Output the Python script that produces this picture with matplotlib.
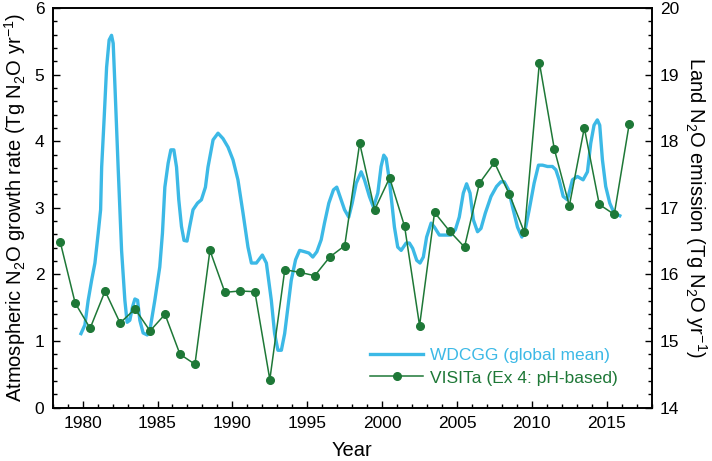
import numpy as np
import matplotlib
matplotlib.use('Agg')
import matplotlib.pyplot as plt
from matplotlib.ticker import MultipleLocator

plt.rcParams['font.family'] = ['Liberation Sans', 'DejaVu Sans']
plt.rcParams['mathtext.fontset'] = 'custom'
plt.rcParams['mathtext.rm'] = 'Liberation Sans'
plt.rcParams['mathtext.it'] = 'Liberation Sans:italic'
plt.rcParams['mathtext.default'] = 'regular'

## WDCGG global mean growth rate (smoothed monthly)
wdcgg_year = [1979.89, 1980.15, 1980.37, 1980.6, 1980.82, 1981.04, 1981.2, 1981.27, 1981.44,
              1981.6, 1981.77, 1981.93, 1982.04, 1982.15, 1982.37, 1982.6, 1982.82, 1982.97,
              1983.15, 1983.33, 1983.49, 1983.67, 1983.82, 1984.04, 1984.31, 1984.49, 1984.6,
              1984.82, 1985.15, 1985.33, 1985.49, 1985.71, 1985.89, 1986.09, 1986.27, 1986.42,
              1986.6, 1986.77, 1986.97, 1987.15, 1987.37, 1987.67, 1987.93, 1988.2, 1988.37,
              1988.71, 1989.04, 1989.37, 1989.71, 1990.04, 1990.37, 1990.71, 1991.04, 1991.27,
              1991.6, 1992.0, 1992.27, 1992.6, 1992.82, 1993.04, 1993.27, 1993.49, 1993.71,
              1993.93, 1994.22, 1994.49, 1994.82, 1995.11, 1995.37, 1995.64, 1995.93, 1996.15,
              1996.44, 1996.75, 1996.97, 1997.2, 1997.49, 1997.77, 1998.0, 1998.27, 1998.6,
              1998.82, 1999.15, 1999.42, 1999.71, 1999.93, 2000.11, 2000.27, 2000.49, 2000.82,
              2001.04, 2001.27, 2001.6, 2001.82, 2002.04, 2002.31, 2002.53, 2002.75, 2002.97,
              2003.27, 2003.49, 2003.82, 2004.15, 2004.6, 2004.89, 2005.15, 2005.42, 2005.64,
              2005.87, 2006.09, 2006.37, 2006.6, 2006.89, 2007.27, 2007.64, 2007.93, 2008.15,
              2008.44, 2008.71, 2009.04, 2009.33, 2009.55, 2009.82, 2010.15, 2010.44, 2010.71,
              2011.04, 2011.37, 2011.6, 2011.82, 2012.09, 2012.37, 2012.71, 2013.04, 2013.42,
              2013.71, 2013.93, 2014.15, 2014.37, 2014.53, 2014.71, 2014.93, 2015.2, 2015.49,
              2015.87]
wdcgg_rate = [1.11, 1.24, 1.61, 1.91, 2.17, 2.62, 2.97, 3.61, 4.36,
              5.11, 5.52, 5.59, 5.47, 4.87, 3.61, 2.36, 1.61, 1.28,
              1.31, 1.51, 1.63, 1.61, 1.31, 1.12, 1.09, 1.16, 1.31,
              1.61, 2.11, 2.62, 3.31, 3.67, 3.87, 3.87, 3.61, 3.12,
              2.72, 2.51, 2.50, 2.72, 2.97, 3.07, 3.12, 3.31, 3.61,
              4.02, 4.12, 4.04, 3.91, 3.72, 3.42, 2.92, 2.41, 2.17,
              2.17, 2.29, 2.17, 1.61, 1.11, 0.86, 0.86, 1.11, 1.51,
              1.91, 2.22, 2.36, 2.34, 2.32, 2.26, 2.34, 2.52, 2.77,
              3.07, 3.27, 3.31, 3.16, 2.97, 2.86, 3.07, 3.37, 3.54,
              3.42, 3.17, 3.01, 3.22, 3.62, 3.79, 3.74, 3.40, 2.71,
              2.41, 2.36, 2.47, 2.47, 2.39, 2.21, 2.17, 2.26, 2.56,
              2.77, 2.71, 2.59, 2.59, 2.59, 2.67, 2.86, 3.22, 3.36,
              3.22, 2.82, 2.64, 2.69, 2.92, 3.17, 3.32, 3.39, 3.39,
              3.27, 3.01, 2.71, 2.56, 2.67, 2.97, 3.37, 3.64, 3.64,
              3.62, 3.62, 3.57, 3.42, 3.17, 3.12, 3.42, 3.47, 3.42,
              3.54, 3.97, 4.24, 4.32, 4.24, 3.72, 3.32, 3.07, 2.92,
              2.88]

## VISIT land N2O emission (annual)
visit_year = np.arange(1978, 2017) + 0.5
visit_emis = [16.49, 15.57, 15.19, 15.75, 15.27, 15.48, 15.15, 15.40, 14.80, 14.65,
              16.36, 15.73, 15.75, 15.74, 14.42, 16.07, 16.03, 15.98, 16.26, 16.43,
              17.97, 16.97, 17.45, 16.72, 15.23, 16.93, 16.65, 16.41, 17.37, 17.68,
              17.20, 16.63, 19.18, 17.88, 17.03, 18.20, 17.05, 16.90, 18.26]

blue = '#3cb9e6'
green = '#1e7837'

fig = plt.figure(figsize=(7.12, 4.61), dpi=100)
ax = fig.add_axes([0.074, 0.116, 0.8413, 0.8666])
ax2 = ax.twinx()

l1, = ax.plot(wdcgg_year, wdcgg_rate, color=blue, lw=2.4, label='WDCGG (global mean)', zorder=3)
l2, = ax2.plot(visit_year, visit_emis, color=green, lw=1.1, marker='o', ms=5.5,
               label='VISITa (Ex 4: pH-based)', zorder=4)

ax.set_xlim(1978, 2018)
ax.set_ylim(0, 6)
ax2.set_ylim(14, 20)

ax.xaxis.set_major_locator(MultipleLocator(5))
ax.xaxis.set_minor_locator(MultipleLocator(1))
ax.yaxis.set_major_locator(MultipleLocator(1))
ax.yaxis.set_minor_locator(MultipleLocator(0.2))
ax2.yaxis.set_major_locator(MultipleLocator(1))
ax2.yaxis.set_minor_locator(MultipleLocator(0.2))

for a in (ax, ax2):
    a.tick_params(which='major', direction='in', length=5, width=1, labelsize=12.5, colors='black')
    a.tick_params(which='minor', direction='in', length=3, width=1)
    a.tick_params(axis='x', pad=6)
    for s in a.spines.values():
        s.set_linewidth(1.2)
ax.tick_params(axis='y', pad=6)
ax2.tick_params(axis='y', pad=6)

ax.set_xlabel('Year', fontsize=14.5, labelpad=7)
ax.set_ylabel('Atmospheric N$_2$O growth rate (Tg N$_2$O yr$^{-1}$)', fontsize=14.5, labelpad=5)
ax2.set_ylabel('Land N$_2$O emission (Tg N$_2$O yr$^{-1}$)', fontsize=14.5, rotation=270, labelpad=21)

leg = ax2.legend([l1, l2], [l1.get_label(), l2.get_label()], loc='lower left',
                 bbox_to_anchor=(0.53, 0.055), frameon=False, fontsize=12.5, numpoints=1,
                 handlelength=3.05, handletextpad=0.4, labelspacing=0.4,
                 borderpad=0, borderaxespad=0)
for txt, c in zip(leg.get_texts(), [blue, green]):
    txt.set_color(c)

fig.savefig('out.png', dpi=100)
